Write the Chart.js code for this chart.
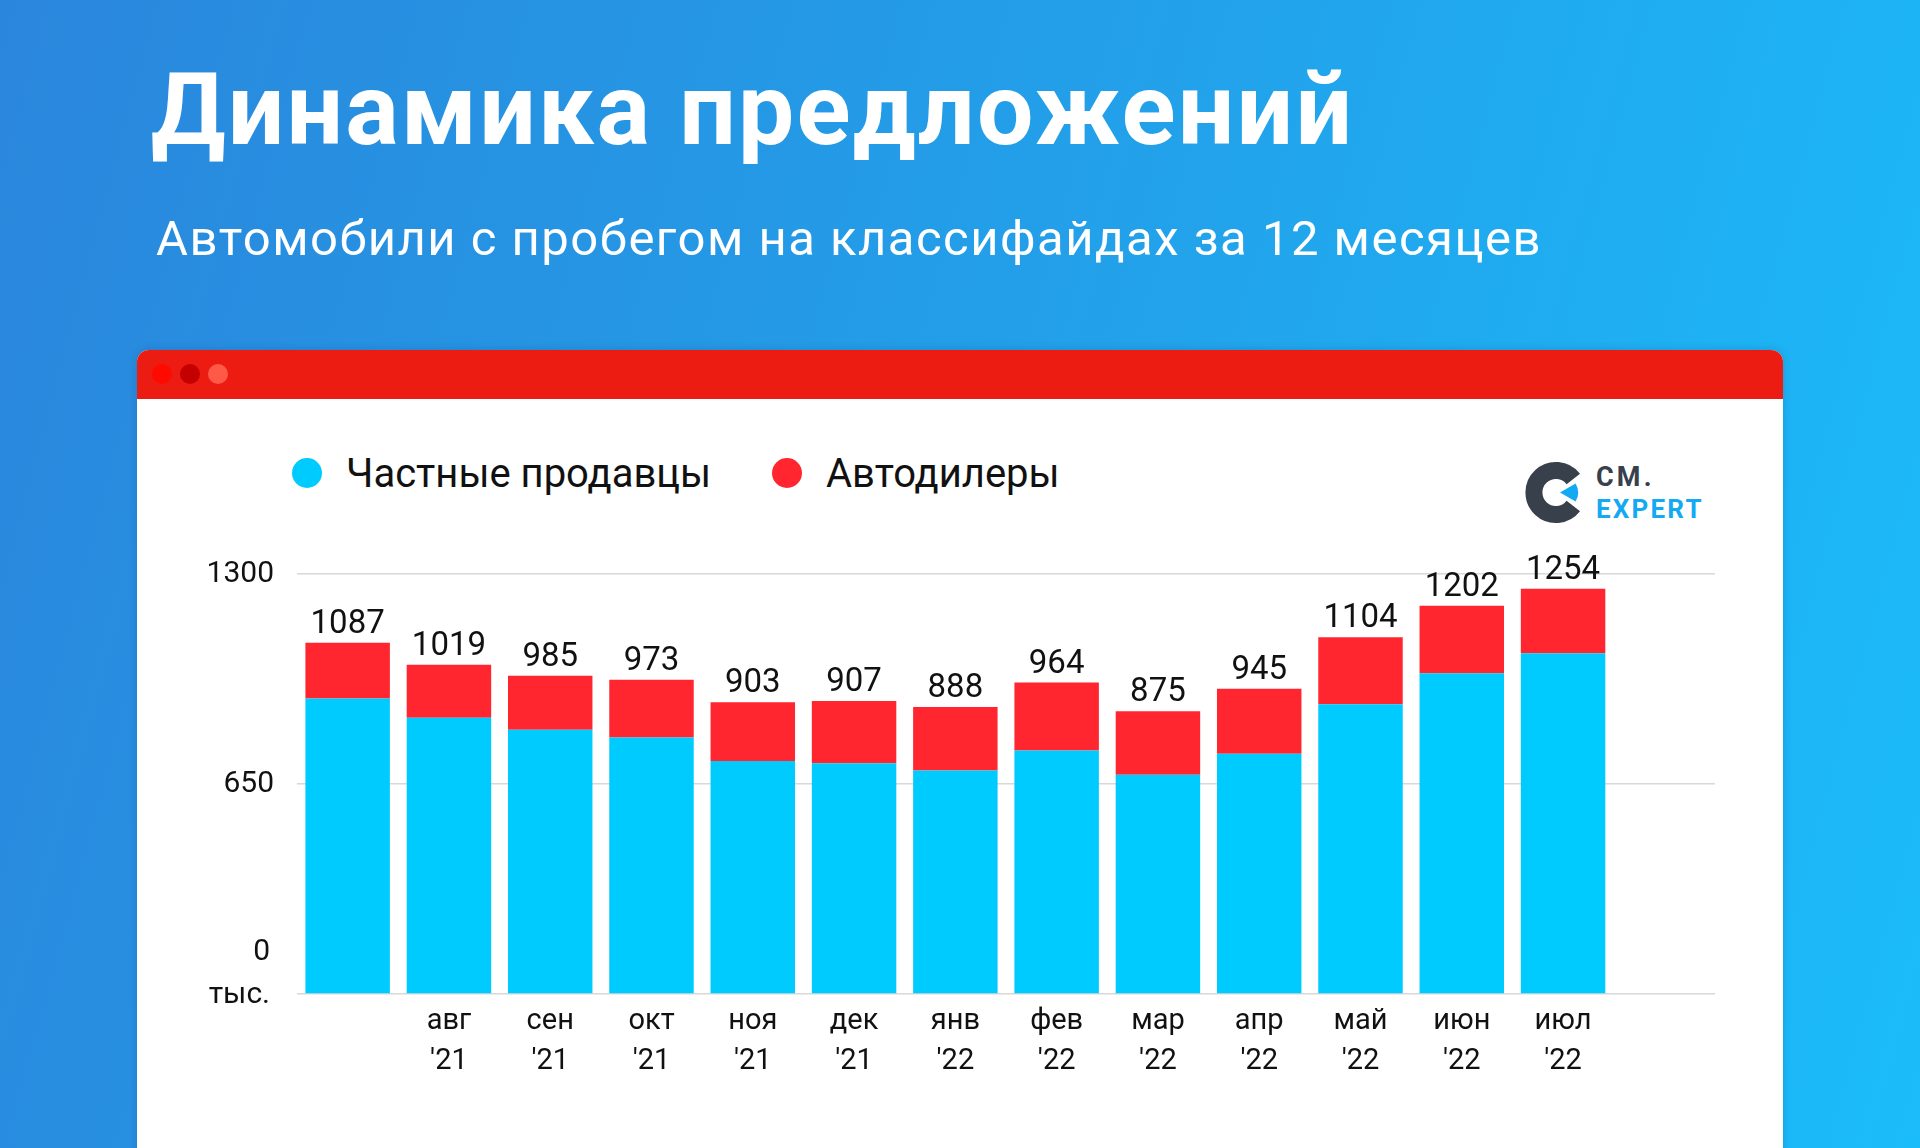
<!DOCTYPE html>
<html lang="ru"><head><meta charset="utf-8">
<script src="https://cdn.jsdelivr.net/npm/chart.js@4.4.1/dist/chart.umd.min.js"></script>
<style>
html,body{margin:0;padding:0;width:1920px;height:1148px;overflow:hidden;}
body{position:relative;background:linear-gradient(105deg,#2a86dc 0%,#22a2ea 55%,#1bbcfa 100%);font-family:Roboto,sans-serif;}
#title{position:absolute;left:151px;top:60px;font-size:100px;line-height:100px;font-weight:700;color:#fff;letter-spacing:2.2px;white-space:nowrap;}
#subtitle{position:absolute;left:156px;top:214px;font-size:49px;line-height:49px;font-weight:400;color:#fff;letter-spacing:1.5px;white-space:nowrap;}
#panel{position:absolute;left:137px;top:350px;width:1646px;height:830px;background:#fff;border-radius:12px 12px 0 0;overflow:hidden;box-shadow:0 0 8px rgba(0,40,90,0.18);}
#head{position:absolute;left:0;top:0;width:100%;height:49px;background:#ec1c13;}
.dot{position:absolute;top:14px;width:20px;height:20px;border-radius:50%;}
#legend{position:absolute;left:292px;top:448px;height:50px;display:flex;align-items:center;}
.li{display:flex;align-items:center;font-size:40px;color:#111;white-space:nowrap;}
.li .c{width:30px;height:30px;border-radius:50%;margin-right:24px;flex:none;}
#chartbox{position:absolute;left:137px;top:533px;width:1644px;height:615px;}
#logo{position:absolute;left:1520px;top:455px;}
</style></head>
<body>
<div id="title">Динамика предложений</div>
<div id="subtitle">Автомобили с пробегом на классифайдах за 12 месяцев</div>
<div id="panel">
  <div id="head">
    <div class="dot" style="left:15px;background:#ff0a00"></div>
    <div class="dot" style="left:43px;background:#c40000"></div>
    <div class="dot" style="left:71px;background:#ff5a48"></div>
  </div>
</div>
<div id="legend"></div>
<svg id="logo" width="200" height="80" viewBox="0 0 200 80">
  <path d="M53.3,24 A22,22 0 1 0 53.3,51" fill="none" stroke="#37404b" stroke-width="17"/>
  <path d="M40,37.5 L55.6,28.5 A18,18 0 0 1 55.6,46.5 Z" fill="#14a9f3"/>
  <text x="76" y="31" font-family="Roboto" font-weight="700" font-size="27" letter-spacing="3.2" fill="#37404b">CM.</text>
  <text x="76" y="63" font-family="Roboto" font-weight="700" font-size="26" letter-spacing="2.2" fill="#14a9f3">EXPERT</text>
</svg>
<div id="chartbox"><canvas id="c"></canvas></div>
<script>
// ---- data ----
const months = ['', 'авг','сен','окт','ноя','дек','янв','фев','мар','апр','май','июн','июл', ''];
const years  = ['', "'21","'21","'21","'21","'21","'22","'22","'22","'22","'22","'22","'22", ''];
const seriesNames = ['Частные продавцы', 'Автодилеры'];
const privateSellers = [915, 855, 818, 794, 721, 714, 692, 754, 679, 744, 897, 993, 1055];
const dealers        = [172, 164, 167, 179, 182, 193, 196, 210, 196, 201, 207, 209, 199];
const totals         = [1087, 1019, 985, 973, 903, 907, 888, 964, 875, 945, 1104, 1202, 1254];
const yTicks = [0, 650, 1300];
const yUnit = 'тыс.';

const colors = ['#00cbff', '#ff2630'];

Chart.defaults.font.family = 'Roboto';
Chart.defaults.color = '#111';

const totalLabels = {
  id: 'totalLabels',
  afterDatasetsDraw(chart) {
    const ctx = chart.ctx;
    const meta = chart.getDatasetMeta(chart.data.datasets.length - 1);
    ctx.save();
    ctx.font = '33px Roboto';
    ctx.fillStyle = '#111';
    ctx.textAlign = 'center';
    ctx.textBaseline = 'alphabetic';
    meta.data.forEach((el, i) => {
      if (totals[i] == null) return;
      ctx.fillText(String(totals[i]), el.x, el.y - 10);
    });
    ctx.restore();
  }
};

const zeroLabel = {
  id: 'zeroLabel',
  afterDraw(chart) {
    const y = chart.scales.y.getPixelForValue(0);
    const x = chart.chartArea.left - 27;
    const ctx = chart.ctx;
    ctx.save();
    ctx.font = '30px Roboto';
    ctx.fillStyle = '#111';
    ctx.textAlign = 'right';
    ctx.textBaseline = 'middle';
    ctx.fillText('0', x, y - 42);
    ctx.fillText(yUnit, x, y + 1);
    ctx.restore();
  }
};

const chart = new Chart(document.getElementById('c'), {
  type: 'bar',
  data: {
    labels: months.map((m, i) => [m, years[i]]),
    datasets: [
      { label: seriesNames[0], data: privateSellers, backgroundColor: colors[0] },
      { label: seriesNames[1], data: dealers, backgroundColor: colors[1] }
    ]
  },
  options: {
    responsive: true,
    maintainAspectRatio: false,
    animation: false,
    events: [],
    layout: { padding: { top: 24, right: 66, left: 0, bottom: 0 } },
    datasets: { bar: { barPercentage: 0.834, categoryPercentage: 1.0 } },
    plugins: { legend: { display: false }, tooltip: { enabled: false } },
    scales: {
      x: {
        stacked: true,
        grid: { display: false, drawTicks: false },
        border: { display: false },
        ticks: { autoSkip: false, maxRotation: 0, minRotation: 0, padding: 8, color: '#111', font: { size: 29, lineHeight: 1.38 } },
        afterFit(s) { s.height = 154; }
      },
      y: {
        stacked: true,
        min: 0, max: 1300,
        afterBuildTicks(s) { s.ticks = yTicks.map(v => ({ value: v })); },
        grid: { color: '#d8d8d8', lineWidth: 1.5, drawTicks: false },
        border: { display: false },
        ticks: { padding: 23, color: '#111', font: { size: 30 }, callback: v => (v === 0 ? '' : v) },
        afterFit(s) { s.width = 160; }
      }
    }
  },
  plugins: [totalLabels, zeroLabel]
});

// HTML legend built from the chart's own legend items
const items = Chart.defaults.plugins.legend.labels.generateLabels(chart);
const lg = document.getElementById('legend');
items.forEach((it, i) => {
  const d = document.createElement('div');
  d.className = 'li';
  if (i === 0) d.style.width = '480px';
  const c = document.createElement('span');
  c.className = 'c';
  c.style.background = it.fillStyle;
  const t = document.createElement('span');
  t.textContent = it.text;
  d.appendChild(c); d.appendChild(t);
  lg.appendChild(d);
});
</script>
</body></html>
